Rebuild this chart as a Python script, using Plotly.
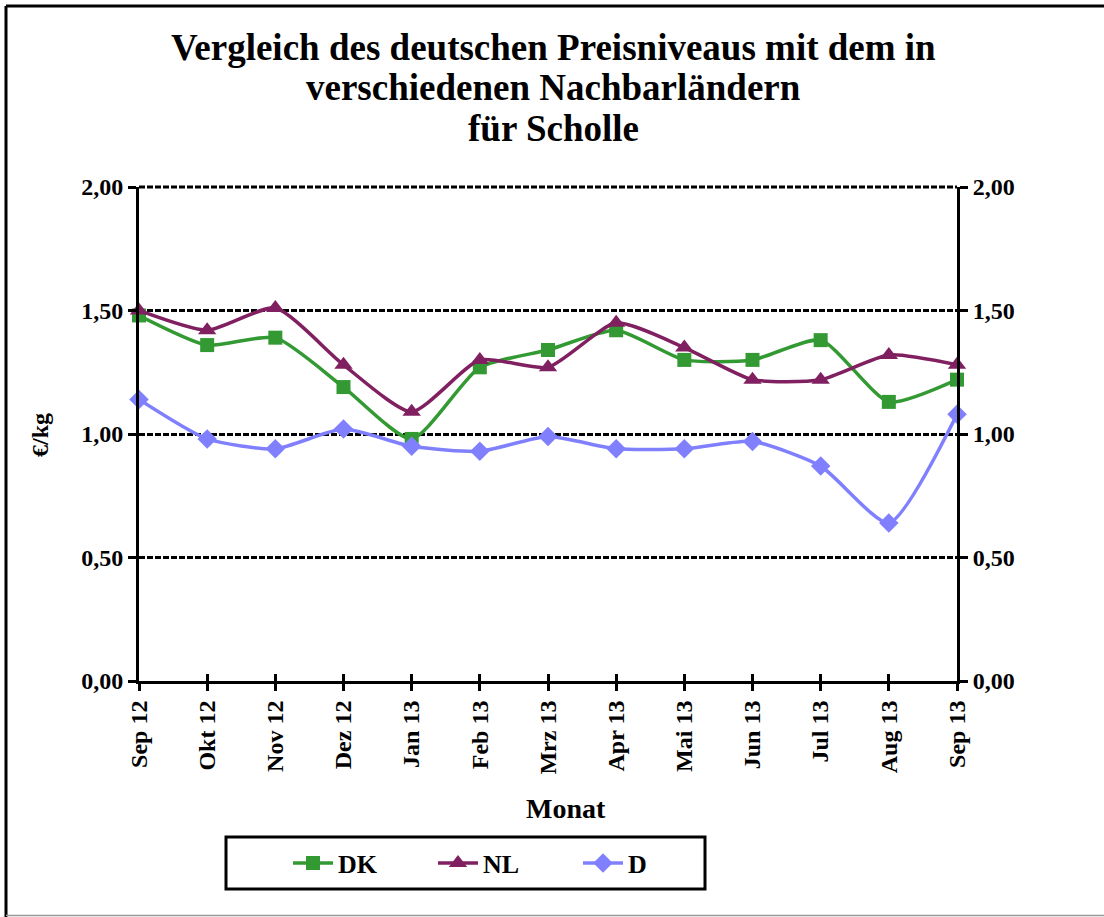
import plotly.graph_objects as go

months = ["Sep 12", "Okt 12", "Nov 12", "Dez 12", "Jan 13", "Feb 13", "Mrz 13",
          "Apr 13", "Mai 13", "Jun 13", "Jul 13", "Aug 13", "Sep 13"]
dk = [1.48, 1.36, 1.39, 1.19, 0.98, 1.27, 1.34, 1.42, 1.30, 1.30, 1.38, 1.13, 1.22]
nl = [1.50, 1.42, 1.51, 1.28, 1.09, 1.30, 1.27, 1.45, 1.35, 1.22, 1.22, 1.32, 1.28]
d = [1.14, 0.98, 0.94, 1.02, 0.95, 0.93, 0.99, 0.94, 0.94, 0.97, 0.87, 0.64, 1.08]
y_ticks = [0, 0.5, 1.0, 1.5, 2.0]
y_labels = ["0,00", "0,50", "1,00", "1,50", "2,00"]
title_lines = ["Vergleich des deutschen Preisniveaus mit dem in",
               "verschiedenen Nachbarländern", "für Scholle"]

FONT = "Liberation Serif, Times New Roman, serif"
W, H = 1104, 917
L, R, T, B = 139, 957, 187, 681  # plot area in pixels


def px(x):
    return (x - L) / (R - L)


def py(y):
    return (B - y) / (B - T)


xs = list(range(len(months)))
YMAX = y_ticks[-1]

fig = go.Figure()
series = [
    ("DK", dk, "#339933", "square", 14),
    ("NL", nl, "#802060", "triangle-up", 16),
    ("D", d, "#8080FF", "diamond", 15),
]
for name, vals, col, sym, size in series:
    fig.add_trace(go.Scatter(
        x=xs, y=vals, name=f"<b>{name}</b>", mode="lines+markers",
        line=dict(color=col, width=3.5, shape="spline", smoothing=0.6),
        marker=dict(symbol=sym, size=size, color=col),
        cliponaxis=False,
    ))
# invisible trace to activate the secondary axes (right y axis, inner x ticks)
fig.add_trace(go.Scatter(x=xs, y=d, xaxis="x2", yaxis="y2", showlegend=False,
                         hoverinfo="skip", mode="lines", line=dict(width=0),
                         opacity=0))

tickfont = dict(family=FONT, size=24, color="black")
fig.update_layout(
    width=W, height=H,
    margin=dict(l=L, r=W - R, t=T, b=H - B),
    paper_bgcolor="white", plot_bgcolor="white",
    xaxis=dict(
        tickmode="array", tickvals=xs, ticktext=[f"<b>{m}</b>" for m in months],
        range=[0, 12], tickangle=-90, tickfont=tickfont,
        showgrid=False, zeroline=False, showline=True, linecolor="black", linewidth=3,
        ticks="outside", ticklen=7, tickwidth=3, tickcolor="black",
    ),
    xaxis2=dict(
        tickmode="array", tickvals=xs, showticklabels=False,
        range=[0, 12], overlaying="x", side="bottom", anchor="y2",
        showgrid=False, zeroline=False, showline=False,
        ticks="inside", ticklen=7, tickwidth=3, tickcolor="black",
    ),
    yaxis=dict(
        range=[0, YMAX], tickmode="array", tickvals=y_ticks,
        ticktext=[f"<b>{t}</b>" for t in y_labels], tickfont=tickfont,
        showgrid=True, gridcolor="black", gridwidth=3, griddash="6px,2px",
        zeroline=False, showline=True, linecolor="black", linewidth=3,
        ticks="outside", ticklen=8, tickwidth=3, tickcolor="black",
    ),
    yaxis2=dict(
        range=[0, YMAX], tickmode="array", tickvals=y_ticks,
        ticktext=[f"<b>{t}</b>" for t in y_labels], tickfont=tickfont,
        overlaying="y", side="right", anchor="x2", showgrid=False, zeroline=False,
        showline=True, linecolor="black", linewidth=3,
        ticks="outside", ticklen=8, tickwidth=3, tickcolor="black",
    ),
    legend=dict(
        orientation="h", x=px(288), xanchor="left",
        y=py(863), yanchor="middle",
        borderwidth=0, bgcolor="rgba(0,0,0,0)",
        font=dict(family=FONT, size=26, color="black"),
        entrywidth=90, entrywidthmode="pixels",
        itemwidth=40,
    ),
    showlegend=True,
)

# gridline at the top of the value range (Plotly omits it at the edge)
fig.add_shape(type="line", xref="paper", yref="paper", x0=0, x1=1, y0=1, y1=1,
              line=dict(color="black", width=3, dash="6px,2px"), layer="below")

for text, yc in zip(title_lines, [47, 88, 129]):
    fig.add_annotation(text=f"<b>{text}</b>", xref="paper", yref="paper",
                       x=px(553), y=py(yc), xanchor="center", yanchor="middle",
                       showarrow=False, font=dict(family=FONT, size=37, color="black"))

fig.add_annotation(text="<b>€/kg</b>", xref="paper", yref="paper",
                   x=px(40), y=py(435), xanchor="center", yanchor="middle",
                   textangle=-90,
                   showarrow=False, font=dict(family=FONT, size=24, color="black"))
fig.add_annotation(text="<b>Monat</b>", xref="paper", yref="paper",
                   x=px(566), y=py(808), xanchor="center", yanchor="middle",
                   showarrow=False, font=dict(family=FONT, size=28, color="black"))
# legend frame
fig.add_shape(type="rect", xref="paper", yref="paper",
              x0=px(226), x1=px(705), y0=py(889), y1=py(837),
              line=dict(color="black", width=3), fillcolor="rgba(0,0,0,0)")
# outer chart frame (left and top black, bottom thin grey, right beyond the edge)
fig.add_shape(type="line", xref="paper", yref="paper",
              x0=px(6), x1=px(1110), y0=py(6), y1=py(6),
              line=dict(color="black", width=3))
fig.add_shape(type="line", xref="paper", yref="paper",
              x0=px(6), x1=px(6), y0=py(6), y1=py(917),
              line=dict(color="black", width=3))
fig.add_shape(type="line", xref="paper", yref="paper",
              x0=px(6), x1=px(1110), y0=py(915.5), y1=py(915.5),
              line=dict(color="#999999", width=1.5))

fig.write_html("out.html", config={"displayModeBar": False},
               post_script="document.body.style.margin='0';document.body.style.overflow='hidden';")
